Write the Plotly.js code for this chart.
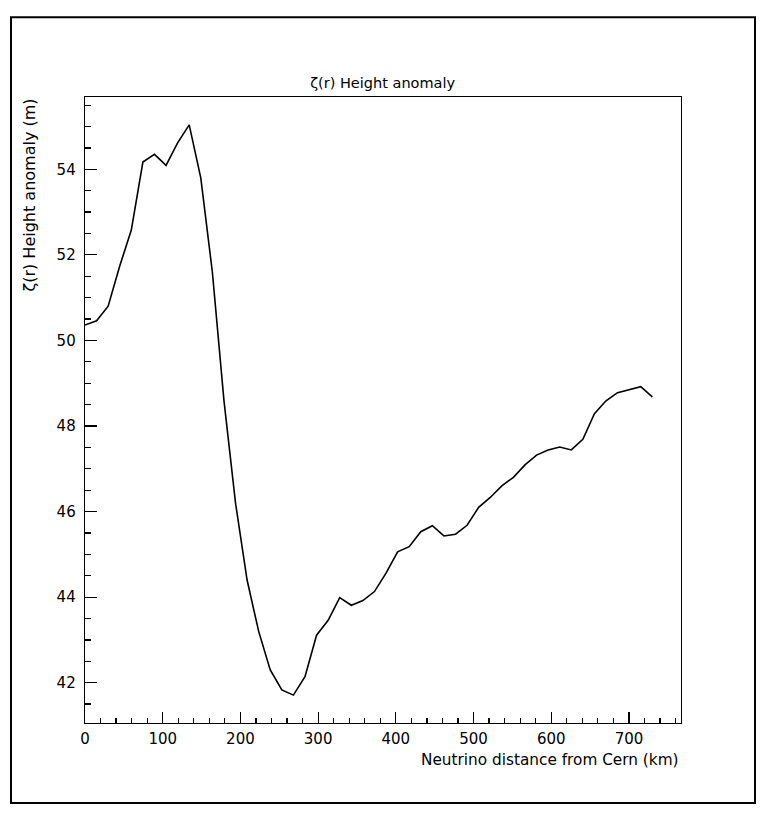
<!DOCTYPE html>
<html>
<head>
<meta charset="utf-8">
<script src="https://cdn.plot.ly/plotly-3.0.1.min.js"></script>
<style>
  html, body { margin: 0; padding: 0; background: #fff; }
  #plot { width: 763px; height: 817px; }
</style>
</head>
<body>
<div id="plot"></div>
<script>
// distance from Cern (km)
const distance = [
    0, 14.9, 29.8, 44.7, 59.6, 74.5, 89.4, 104.3, 119.2, 134.1,
    149, 163.9, 178.8, 193.7, 208.6, 223.5, 238.4, 253.3, 268.2, 283.1,
    298, 312.9, 327.8, 342.7, 357.6, 372.5, 387.4, 402.3, 417.2, 432.1,
    447, 461.9, 476.8, 491.7, 506.6, 521.5, 536.4, 551.3, 566.2, 581.1,
    596, 610.9, 625.8, 640.7, 655.6, 670.5, 685.4, 700.3, 715.2, 730.1
];

// height anomaly zeta(r) in metres
const zeta = [
    50.36, 50.46, 50.80, 51.74, 52.58, 54.17, 54.35, 54.09, 54.62, 55.04,
    53.80, 51.60, 48.60, 46.20, 44.40, 43.20, 42.30, 41.83, 41.71, 42.14,
    43.11, 43.46, 43.99, 43.81, 43.92, 44.13, 44.56, 45.06, 45.18, 45.53,
    45.67, 45.43, 45.47, 45.68, 46.10, 46.33, 46.60, 46.80, 47.09, 47.32,
    47.44, 47.51, 47.44, 47.69, 48.29, 48.59, 48.78, 48.85, 48.92, 48.68
];

const family = 'DejaVu Sans, Verdana, sans-serif';
const tick_font = { family: family, size: 15, color: '#000' };
const title_font = { family: family, size: 14.5, color: '#000' };
const xtitle_font = { family: family, size: 15.3, color: '#000' };
const ytitle_font = { family: family, size: 16, color: '#000' };

let trace = {
    x: distance,
    y: zeta,
    mode: 'lines',
    type: 'scatter',
    line: { color: '#000', width: 1.6 },
    hoverinfo: 'x+y'
};

let axis_common = {
    showgrid: false,
    zeroline: false,
    showline: true,
    linecolor: '#000',
    linewidth: 1.3,
    mirror: true,
    ticks: 'inside',
    tickcolor: '#000',
    tickwidth: 1.2,
    tickfont: tick_font
};

let layout = {
    width: 763,
    height: 817,
    paper_bgcolor: '#fff',
    plot_bgcolor: '#fff',
    showlegend: false,
    font: tick_font,
    margin: { l: 85, r: 82, t: 97, b: 94 },
    title: {
        text: 'ζ(r) Height anomaly',
        font: title_font,
        x: 0.5015,
        xanchor: 'center',
        y: 1 - 83 / 817,
        yanchor: 'middle'
    },
    xaxis: Object.assign({}, axis_common, {
        range: [0, 767],
        dtick: 100,
        tick0: 0,
        ticklen: 11,
        ticklabelstandoff: 2,
        minor: { dtick: 20, ticks: 'inside', ticklen: 5, tickcolor: '#000', tickwidth: 1.2 }
    }),
    yaxis: Object.assign({}, axis_common, {
        range: [41.058, 55.69],
        dtick: 2,
        tick0: 0,
        ticklen: 12,
        ticklabelstandoff: 5,
        minor: { dtick: 0.5, ticks: 'inside', ticklen: 6, tickcolor: '#000', tickwidth: 1.2 }
    }),
    annotations: [
        {
            text: 'Neutrino distance from Cern (km)',
            xref: 'paper', yref: 'paper',
            x: 1, xanchor: 'right',
            y: -37 / 626.3, yanchor: 'middle',
            showarrow: false,
            font: xtitle_font
        },
        {
            text: 'ζ(r) Height anomaly (m)',
            xref: 'paper', yref: 'paper',
            x: (29 - 85) / 596, xanchor: 'center',
            y: 1, yanchor: 'top',
            textangle: -90,
            showarrow: false,
            font: ytitle_font
        }
    ],
    shapes: [
        {
            type: 'rect',
            xref: 'paper', yref: 'paper',
            x0: (11 - 85) / 596, x1: (755 - 85) / 596,
            y0: (723 - 803) / 626.3, y1: (723 - 17) / 626.3,
            line: { color: '#000', width: 2 }
        }
    ]
};

Plotly.newPlot('plot', [trace], layout, { displayModeBar: false, staticPlot: true });
</script>
</body>
</html>
